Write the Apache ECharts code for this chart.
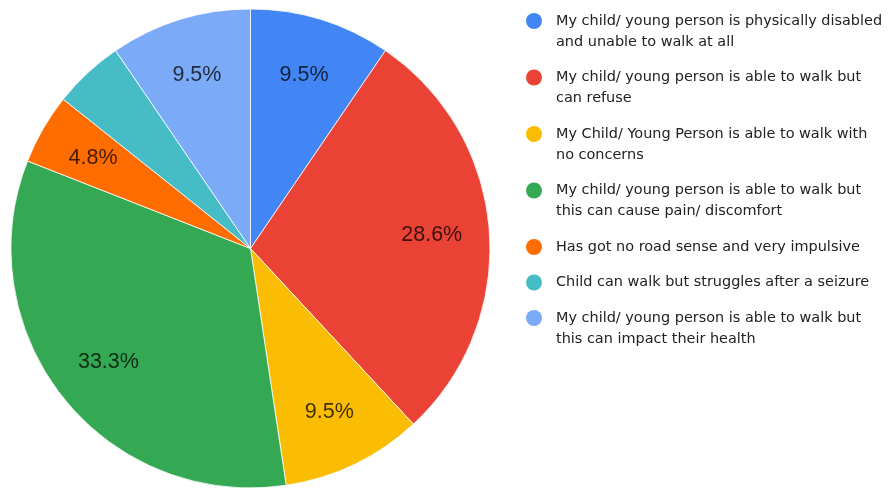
<!DOCTYPE html>
<html>
<head>
<meta charset="utf-8">
<script src="https://cdn.jsdelivr.net/npm/echarts@6/dist/echarts.min.js"></script>
<style>
  html, body { margin: 0; padding: 0; background: #ffffff; }
  #chart { width: 890px; height: 489px; }
</style>
</head>
<body>
<div id="chart"></div>
<script>
// Answers describing how the child/ young person manages walking
const categories = [
  'My child/ young person is physically disabled\nand unable to walk at all',
  'My child/ young person is able to walk but\ncan refuse',
  'My Child/ Young Person is able to walk with\nno concerns',
  'My child/ young person is able to walk but\nthis can cause pain/ discomfort',
  'Has got no road sense and very impulsive',
  'Child can walk but struggles after a seizure',
  'My child/ young person is able to walk but\nthis can impact their health'
];
// Number of responses per answer
const responses = [2, 6, 2, 7, 1, 1, 2];
const sliceColors = ['#4285f4', '#ea4335', '#fbbc04', '#34a853', '#ff6d01', '#46bdc6', '#7baaf7'];
// Slices whose percentage is left unlabelled
const unlabelled = ['Child can walk but struggles after a seizure'];

const CENTER = [250.5, 248.5];
const RADIUS = 239.5;
const LABEL_RING_INNER = 118;

const pieData = categories.map((name, i) => ({
  name: name,
  value: responses[i],
  itemStyle: { color: sliceColors[i] }
}));

const labelData = categories.map((name, i) => ({
  name: name,
  value: responses[i],
  label: { show: unlabelled.indexOf(name) < 0 }
}));

// Legend: colored dot on the first line, wrapped text aligned after it
const LINE_H = 21;
const rich = {
  sp: { width: 14, height: 16, lineHeight: LINE_H },
  blank: { width: 16, height: 16, lineHeight: LINE_H },
  t: {
    fontFamily: '"DejaVu Sans", Verdana, sans-serif',
    fontSize: 14.45,
    color: '#222222',
    lineHeight: LINE_H
  }
};
sliceColors.forEach((c, i) => {
  rich['c' + i] = { width: 16, height: 16, borderRadius: 8, backgroundColor: c, lineHeight: LINE_H };
});

const chart = echarts.init(document.getElementById('chart'), null, { renderer: 'canvas' });
chart.setOption({
  animation: false,
  backgroundColor: '#ffffff',
  legend: {
    orient: 'vertical',
    left: 520,
    top: 13,
    padding: 0,
    itemGap: 19.5,
    itemWidth: 0,
    itemHeight: 0,
    icon: 'circle',
    data: categories,
    formatter: function (name) {
      const idx = categories.indexOf(name);
      const lines = name.split('\n');
      return lines.map((line, k) =>
        (k === 0 ? '{c' + idx + '|}' : '{blank|}') + '{sp|}{t|' + line + '}'
      ).join('\n');
    },
    textStyle: { rich: rich }
  },
  series: [
    {
      type: 'pie',
      center: CENTER,
      radius: [0, RADIUS],
      startAngle: 90,
      clockwise: true,
      data: pieData,
      label: { show: false },
      labelLine: { show: false },
      itemStyle: { borderColor: '#ffffff', borderWidth: 0.8 },
      emphasis: { disabled: true }
    },
    {
      // transparent ring used only to place the percentage labels
      type: 'pie',
      center: CENTER,
      radius: [LABEL_RING_INNER, RADIUS],
      startAngle: 90,
      clockwise: true,
      silent: true,
      percentPrecision: 1,
      data: labelData,
      itemStyle: { color: 'rgba(0,0,0,0)', borderWidth: 0 },
      label: {
        position: 'inside',
        formatter: '{d}%',
        fontFamily: '"Liberation Sans", Arial, sans-serif',
        fontSize: 21.5,
        color: 'rgba(0,0,0,0.75)'
      },
      labelLine: { show: false },
      emphasis: { disabled: true }
    }
  ]
});
</script>
</body>
</html>
